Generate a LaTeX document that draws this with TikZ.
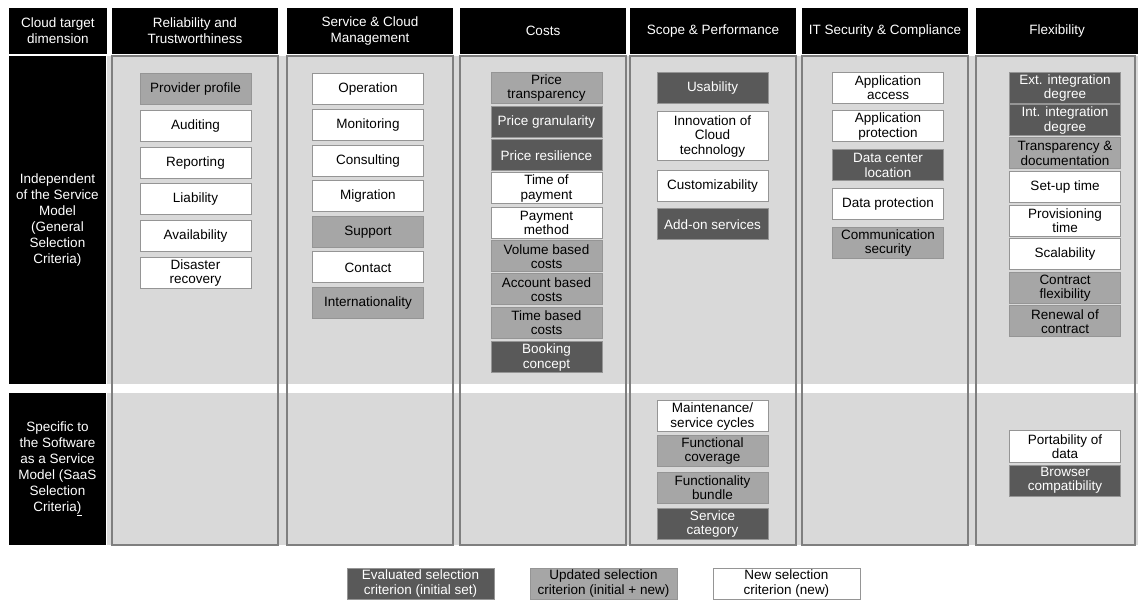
\documentclass[tikz,border=0pt]{standalone}
\usepackage{fontspec}
\setmainfont{Liberation Sans}
\usepackage{xcolor}
\usepackage{tikz}
\usetikzlibrary{positioning}

\definecolor{evalgray}{HTML}{595959}
\definecolor{updgray}{HTML}{A6A6A6}
\definecolor{bandgray}{HTML}{D9D9D9}
\definecolor{rimgray}{HTML}{959595}
\definecolor{colline}{HTML}{7F7F7F}

\tikzset{
    crit/.style={draw=rimgray, line width=1pt, minimum width=111pt, minimum height=31pt,
        inner sep=0pt, align=center, font=\fontsize{13.5}{14.3}\selectfont},
    evalbox/.style={crit, fill=evalgray, text=white},
    updbox/.style={crit, fill=updgray, text=black},
    newbox/.style={crit, fill=white, text=black},
    headbox/.style={fill=black, text=white, inner sep=0pt, align=center,
        font=\fontsize{13.5}{16}\selectfont},
    colhead/.style={headbox, minimum width=166pt, minimum height=46pt},
    colframe/.style={draw=colline, line width=1.2pt}
}

\begin{document}
\begin{tikzpicture}[x=1pt, y=-1pt]
    \useasboundingbox (0,0) rectangle (1138,601);

    % Bands
    \fill[bandgray] (107,56) rectangle (1138,384);
    \fill[bandgray] (107,393) rectangle (1138,545);

    % Column frames
    \draw[colframe] (112,56) rectangle (278,545);
    \draw[colframe] (287,56) rectangle (453,545);
    \draw[colframe] (460,56) rectangle (626,545);
    \draw[colframe] (630,56) rectangle (796,545);
    \draw[colframe] (802,56) rectangle (968,545);
    \draw[colframe] (976,56) rectangle (1135,545);

    % Header row
    \node[headbox, minimum width=98pt, minimum height=46pt] (hDim) at (58,31) {Cloud target\\dimension};
    \node[colhead] (hRel) at (195,31) {Reliability and\\Trustworthiness};
    \node[colhead] (hServ) at (370,31) {Service \& Cloud\\Management};
    \node[colhead] (hCost) at (543,31) {Costs};
    \node[colhead] (hScope) at (713,31) {Scope \& Performance};
    \node[colhead] (hSec) at (885,31) {IT Security \& Compliance};
    \node[colhead, minimum width=162pt] (hFlex) at (1057,31) {Flexibility};

    % Row labels
    \node[headbox, minimum width=97pt, minimum height=328pt] (lblIndep) at (57.5,220)
        {Independent\\of the Service\\Model\\(General\\Selection\\Criteria)};
    \node[headbox, minimum width=97pt, minimum height=152pt] (lblSaaS) at (57.5,469)
        {Specific to\\the Software\\as a Service\\Model (SaaS\\Selection\\Criteria\underline{)}};

    % Reliability and Trustworthiness
    \node[updbox] (pProvider) at (195.5,89.5) {Provider profile};
    \node[newbox] (pAudit) at (195.5,126.5) {Auditing};
    \node[newbox] (pReport) at (195.5,163) {Reporting};
    \node[newbox] (pLiab) at (195.5,199.5) {Liability};
    \node[newbox] (pAvail) at (195.5,236.5) {Availability};
    \node[newbox] (pDisaster) at (195.5,273) {Disaster\\recovery};

    % Service & Cloud Management
    \node[newbox] (sOper) at (368,89) {Operation};
    \node[newbox] (sMonit) at (368,125) {Monitoring};
    \node[newbox] (sConsult) at (368,161) {Consulting};
    \node[newbox] (sMigr) at (368,196.5) {Migration};
    \node[updbox] (sSupport) at (368,232) {Support};
    \node[newbox] (sContact) at (368,267.5) {Contact};
    \node[updbox] (sIntl) at (368,303) {Internationality};

    % Costs
    \node[updbox] (cTransp) at (546.5,88) {Price\\transparency};
    \node[evalbox] (cGran) at (546.5,122) {Price granularity};
    \node[evalbox] (cResil) at (546.5,155.5) {Price resilience};
    \node[newbox] (cTime) at (546.5,188.5) {Time of\\payment};
    \node[newbox] (cMethod) at (546.5,223) {Payment\\method};
    \node[updbox] (cVolume) at (546.5,256.5) {Volume based\\costs};
    \node[updbox] (cAccount) at (546.5,289.5) {Account based\\costs};
    \node[updbox] (cTimeB) at (546.5,323) {Time based\\costs};
    \node[evalbox] (cBooking) at (546.5,357.5) {Booking\\concept};

    % Scope & Performance
    \node[evalbox] (gUsab) at (712.5,88) {Usability};
    \node[newbox, minimum height=49pt] (gInnov) at (712.5,136.5) {Innovation of\\Cloud\\technology};
    \node[newbox] (gCustom) at (712.5,186.5) {Customizability};
    \node[evalbox] (gAddon) at (712.5,224.5) {Add-on services};
    \node[newbox] (gMaint) at (712.5,416.5) {Maintenance/\\service cycles};
    \node[updbox] (gFunc) at (712.5,451) {Functional\\coverage};
    \node[updbox] (gBundle) at (712.5,487.5) {Functionality\\bundle};
    \node[evalbox] (gCat) at (712.5,524) {Service\\category};

    % IT Security & Compliance
    \node[newbox] (tAccess) at (888,88) {Application\\access};
    \node[newbox] (tProt) at (888,126.5) {Application\\protection};
    \node[evalbox] (tLoc) at (888,165.5) {Data center\\location};
    \node[newbox] (tData) at (888,204.5) {Data protection};
    \node[updbox] (tComm) at (888,243) {Communication\\security};

    % Flexibility
    \node[evalbox] (fExt) at (1065,88) {Ext. integration\\degree};
    \node[evalbox] (fInt) at (1065,120.5) {Int. integration\\degree};
    \node[updbox] (fDoc) at (1065,153.5) {Transparency \&\\documentation};
    \node[newbox] (fSetup) at (1065,187) {Set-up time};
    \node[newbox] (fProv) at (1065,221) {Provisioning\\time};
    \node[newbox] (fScal) at (1065,254.5) {Scalability};
    \node[updbox] (fContract) at (1065,288) {Contract\\flexibility};
    \node[updbox] (fRenew) at (1065,321.5) {Renewal of\\contract};
    \node[newbox] (fPort) at (1065,446.5) {Portability of\\data};
    \node[evalbox] (fBrowser) at (1065,480.5) {Browser\\compatibility};

    % Legend
    \node[evalbox, minimum width=147pt] (legEval) at (420.5,583.5) {Evaluated selection\\criterion (initial set)};
    \node[updbox, minimum width=147pt] (legUpd) at (603.5,583.5) {Updated selection\\criterion (initial + new)};
    \node[newbox, minimum width=147pt] (legNew) at (786.5,583.5) {New selection\\criterion (new)};
\end{tikzpicture}
\end{document}
